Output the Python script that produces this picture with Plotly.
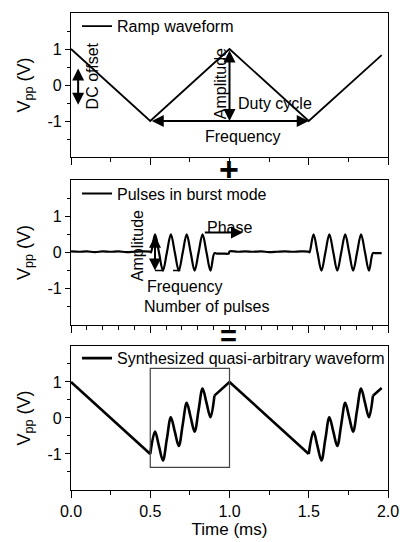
import plotly.graph_objects as go

# ---------------- data ----------------
ramp_t = [0.0, 0.5, 1.0, 1.5, 1.96]
ramp_v = [1.0, -1.0, 1.0, -1.0, 0.83]

pulse_t = [0.0, 0.05, 0.1, 0.15, 0.2, 0.25, 0.3, 0.35, 0.4, 0.45, 0.5,
           0.505, 0.53, 0.555, 0.58, 0.605, 0.63, 0.655, 0.68, 0.705, 0.73,
           0.755, 0.78, 0.805, 0.83, 0.855, 0.88, 0.905, 0.92, 0.96, 0.995,
           1.0, 1.05, 1.1, 1.15, 1.2, 1.25, 1.3, 1.35, 1.4, 1.45, 1.5,
           1.505, 1.53, 1.555, 1.58, 1.605, 1.63, 1.655, 1.68, 1.705, 1.73,
           1.755, 1.78, 1.805, 1.83, 1.855, 1.88, 1.905, 1.92, 1.96]
pulse_v = [0.03, 0.02, 0.03, 0.01, 0.03, 0.02, 0.03, 0.01, 0.02, 0.03, 0.02,
           0.0, 0.5, 0.0, -0.5, 0.0, 0.5, 0.0, -0.5, 0.0, 0.5,
           0.0, -0.5, 0.0, 0.5, 0.0, -0.5, -0.02, -0.03, -0.03, -0.03,
           0.03, 0.02, 0.03, 0.02, 0.03, 0.01, 0.02, 0.03, 0.02, 0.03, 0.02,
           0.0, 0.5, 0.0, -0.5, 0.0, 0.5, 0.0, -0.5, 0.0, 0.5,
           0.0, -0.5, 0.0, 0.5, 0.0, -0.5, -0.02, -0.02, -0.02]

synth_lin_t = [0.0, 0.5, None, 0.905, 1.0, 1.5, None, 1.905, 1.96]
synth_lin_v = [1.0, -1.0, None, 0.62, 1.0, -1.0, None, 0.62, 0.83]
synth_osc_t = [0.5, 0.53, 0.555, 0.58, 0.605, 0.63, 0.655, 0.68, 0.705, 0.73,
               0.755, 0.78, 0.805, 0.83, 0.855, 0.88, 0.905, None,
               1.5, 1.53, 1.555, 1.58, 1.605, 1.63, 1.655, 1.68, 1.705, 1.73,
               1.755, 1.78, 1.805, 1.83, 1.855, 1.88, 1.905]
synth_osc_v = [-1.0, -0.38, -0.78, -1.18, -0.58, 0.02, -0.38, -0.78, -0.18, 0.42,
               0.02, -0.38, 0.22, 0.82, 0.42, 0.02, 0.62, None,
               -1.0, -0.38, -0.78, -1.18, -0.58, 0.02, -0.38, -0.78, -0.18, 0.42,
               0.02, -0.38, 0.22, 0.82, 0.42, 0.02, 0.62]

x_tick_vals = [0.0, 0.5, 1.0, 1.5, 2.0]
x_tick_text = ["0.0", "0.5", "1.0", "1.5", "2.0"]
y_tick_vals = [-1, 0, 1]
y_tick_text = ["-1", "0", "1"]

FONT = "Liberation Sans, Arial, sans-serif"
BLACK = "#000000"

fig = go.Figure()

fig.add_trace(go.Scatter(x=ramp_t, y=ramp_v, mode="lines", name="Ramp waveform",
                         line=dict(color=BLACK, width=1.8), xaxis="x", yaxis="y",
                         legend="legend"))
fig.add_trace(go.Scatter(x=pulse_t, y=pulse_v, mode="lines", name="Pulses in burst mode",
                         line=dict(color=BLACK, width=2.2, shape="spline", smoothing=1.0),
                         xaxis="x2", yaxis="y2", legend="legend2"))
fig.add_trace(go.Scatter(x=synth_lin_t, y=synth_lin_v, mode="lines",
                         name="Synthesized quasi-arbitrary waveform",
                         line=dict(color=BLACK, width=2.6), xaxis="x3", yaxis="y3",
                         legend="legend3", connectgaps=False))
fig.add_trace(go.Scatter(x=synth_osc_t, y=synth_osc_v, mode="lines",
                         name="Synthesized quasi-arbitrary waveform",
                         line=dict(color=BLACK, width=2.6, shape="spline", smoothing=1.0),
                         xaxis="x3", yaxis="y3", showlegend=False, connectgaps=False))

domains = {1: [0.698, 1.0], 2: [0.346, 0.650], 3: [0.0, 0.302]}
minor_x = {1: 0.25, 2: 0.1, 3: 0.25}

layout = dict(
    width=400, height=542,
    margin=dict(l=71, r=12, t=13, b=52, autoexpand=False),
    paper_bgcolor="white", plot_bgcolor="white",
    font=dict(family=FONT, size=15, color=BLACK),
)

for i in (1, 2, 3):
    xa = "xaxis" if i == 1 else f"xaxis{i}"
    ya = "yaxis" if i == 1 else f"yaxis{i}"
    layout[xa] = dict(
        domain=[0, 1], anchor="y" if i == 1 else f"y{i}",
        range=[0, 2.0], showgrid=False, zeroline=False, automargin=False,
        showline=True, linecolor=BLACK, linewidth=1.3, mirror=True,
        ticks="outside", ticklen=7, tickwidth=1.2, tickcolor=BLACK,
        tickvals=x_tick_vals, ticktext=x_tick_text,
        showticklabels=(i == 3),
        tickfont=dict(size=16),
        minor=dict(dtick=minor_x[i], tick0=0, ticks="outside", ticklen=4,
                   tickwidth=1.1, tickcolor=BLACK, showgrid=False),
    )
    layout[ya] = dict(
        domain=domains[i], anchor="x" if i == 1 else f"x{i}",
        range=[-2, 2], showgrid=False, zeroline=False, automargin=False,
        showline=True, linecolor=BLACK, linewidth=1.3, mirror=True,
        ticks="outside", ticklen=5, tickwidth=1.2, tickcolor=BLACK,
        tickvals=y_tick_vals, ticktext=y_tick_text,
        tickfont=dict(size=16),
        minor=dict(tickvals=[-1.5, -0.5, 0.5, 1.5], ticks="outside", ticklen=3,
                   tickwidth=1.1, tickcolor=BLACK, showgrid=False),
        title=dict(text="V<sub>pp</sub> (V)", font=dict(size=18), standoff=12),
    )

layout["xaxis3"]["title"] = dict(text="Time (ms)", font=dict(size=17), standoff=2)

for key, ytop in (("legend", 1.008), ("legend2", 0.657), ("legend3", 0.312)):
    layout[key] = dict(x=0.019, y=ytop, xanchor="left", yanchor="top",
                       bgcolor="rgba(0,0,0,0)", borderwidth=0,
                       font=dict(size=16, family=FONT), itemwidth=30,
                       tracegroupgap=0)

fig.update_layout(**layout)

ann = []
def arrow(xr, yr, x0, y0, x1, y1, both=True):
    ann.append(dict(xref=xr, yref=yr, axref=xr, ayref=yr, x=x1, y=y1, ax=x0, ay=y0,
                    text="", showarrow=True, arrowhead=2, arrowsize=1.2, arrowwidth=2,
                    arrowcolor=BLACK, arrowside="end+start" if both else "end",
                    standoff=0, startstandoff=0))

def label(xr, yr, x, y, text, angle=0, size=16):
    ann.append(dict(xref=xr, yref=yr, x=x, y=y, text=text, showarrow=False,
                    textangle=angle, font=dict(size=size, family=FONT, color=BLACK),
                    xanchor="center", yanchor="middle"))

# panel 1
arrow("x", "y", 0.045, 0.5, 0.045, -0.55)
label("x", "y", 0.135, 0.25, "DC offset", angle=-90)
arrow("x", "y", 1.0, 1.0, 1.0, -1.0)
label("x", "y", 0.94, 0.05, "Amplitude", angle=-90)
label("x", "y", 1.29, -0.5, "Duty cycle")
arrow("x", "y", 0.5, -1.0, 1.5, -1.0)
label("x", "y", 1.085, -1.42, "Frequency")

# panel 2
arrow("x2", "y2", 0.53, 0.5, 0.53, -0.5)
label("x2", "y2", 0.42, 0.19, "Amplitude", angle=-90)
arrow("x2", "y2", 0.835, 0.55, 1.085, 0.55, both=False)
label("x2", "y2", 1.0, 0.7, "Phase")
label("x2", "y2", 0.72, -0.95, "Frequency")
label("x2", "y2", 0.855, -1.5, "Number of pulses")

# operators between panels
ann.append(dict(xref="paper", yref="paper", x=0.498, y=0.672, text="<b>+</b>",
                xanchor="center", yanchor="middle",
                showarrow=False, font=dict(size=34, family=FONT, color=BLACK)))
ann.append(dict(xref="paper", yref="paper", x=0.498, y=0.323, text="<b>=</b>",
                xanchor="center", yanchor="middle",
                showarrow=False, font=dict(size=29, family=FONT, color=BLACK)))

fig.update_layout(annotations=ann)

fig.add_shape(type="line", xref="x2", yref="y2", x0=0.53, x1=0.69, y0=-0.5, y1=-0.5,
              line=dict(color=BLACK, width=1.5, dash="dash"))
fig.add_shape(type="rect", xref="x3", yref="y3", x0=0.5, x1=1.0, y0=-1.37, y1=1.38,
              line=dict(color="#444444", width=1.2))

fig.write_html("out.html", config={"displayModeBar": False},
               post_script="document.body.style.margin='0';document.body.style.padding='0';")
